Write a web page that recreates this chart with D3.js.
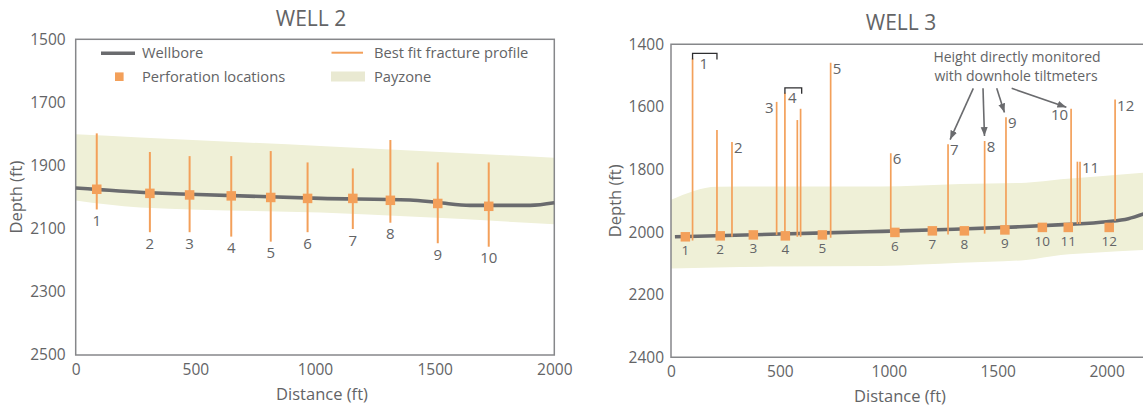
<!DOCTYPE html>
<html>
<head>
<meta charset="utf-8">
<script src="https://cdnjs.cloudflare.com/ajax/libs/d3/7.8.5/d3.min.js"></script>
<style>
  body { margin: 0; background: #fff; }
  svg text { font-family: "Open Sans", sans-serif; fill: #636466; }
</style>
</head>
<body>
<script>
// ---- WELL 2 ----
var w2Stages      = ["1", "2", "3", "4", "5", "6", "7", "8", "9", "10"];
var w2PerfFt      = [88, 310, 476, 650, 815, 969, 1158, 1315, 1513, 1726];
var w2PerfDepth   = [1975, 1988, 1993, 1996, 2001, 2004, 2004, 2010, 2020, 2029];
var w2FracTop     = [1798, 1857, 1870, 1870, 1854, 1890, 1909, 1819, 1890, 1890];
var w2FracBottom  = [2039, 2111, 2111, 2125, 2141, 2111, 2101, 2081, 2146, 2157];
var w2WellFt      = [0, 311, 478, 1023, 1397, 1514, 1648, 1899, 2000];
var w2WellDepth   = [1971, 1986, 1991, 2004, 2009, 2017, 2026, 2026, 2018];
var w2PayFt       = [0, 269, 1023, 2000];
var w2PayTop      = [1801, 1811, 1838, 1875];
var w2PayBottom   = [2011, 2033, 2049, 2086];
var w2YTicks      = [1500, 1700, 1900, 2100, 2300, 2500];

// ---- WELL 3 ----
var w3Stages      = ["1", "2", "3", "4", "5", "6", "7", "8", "9", "10", "11", "12"];
var w3PerfFt      = [66, 226, 378, 525, 695, 1028, 1200, 1347, 1533, 1705, 1824, 2012];
var w3PerfDepth   = [2015, 2012, 2009, 2012, 2009, 2001, 1996, 1996, 1993, 1985, 1985, 1985];
var w3FracFt      = [99, 211, 280, 485, 523, 580, 595, 733, 1009, 1272, 1440, 1538, 1837, 1866, 1878, 2039];
var w3FracTop     = [1445, 1674, 1712, 1584, 1555, 1642, 1606, 1459, 1748, 1719, 1709, 1633, 1606, 1775, 1775, 1576];
var w3FracBottom  = [2027, 2015, 2015, 2009, 2018, 2015, 2015, 2018, 2003, 2008, 2005, 1988, 1983, 1974, 1974, 1964];
// which fracture line carries a stage name at its tip ("" = none)
var w3FracLabel   = ["", "", "2", "3", "", "", "", "5", "6", "7", "8", "9", "10", "", "11", "12"];
var w3Brackets    = ["1", "4"];
var w3BracketFrom = [99, 523];
var w3BracketTo   = [211, 600];
var w3BracketDepth = [1429, 1539];
var w3Monitored   = ["7", "8", "9", "10"];
var w3WellFt      = [18, 250, 500, 900, 1300, 1600, 1800, 2000, 2100, 2170];
var w3WellDepth   = [2015, 2011, 2006, 1999, 1991, 1983, 1976, 1967, 1957, 1942];
var w3PayFt       = [0, 210, 500, 960, 1330, 1630, 1790, 1940, 2170];
var w3PayTop      = [1897, 1855, 1854, 1854, 1846, 1842, 1831, 1823, 1810];
var w3PayBottom   = [2116, 2113, 2110, 2108, 2098, 2089, 2073, 2066, 2057];
var w3YTicks      = [1400, 1600, 1800, 2000, 2200, 2400];

var xTicks = [0, 500, 1000, 1500, 2000];

var width = 1143, height = 408;
var orange = "#f3a05a", payColor = "#eff0d7", boreColor = "#6a6b6e", frameColor = "#86878a";

var svg = d3.select("body").append("svg")
  .attr("width", width)
  .attr("height", height);

svg.append("defs").append("marker")
  .attr("id", "arrow")
  .attr("markerUnits", "userSpaceOnUse")
  .attr("viewBox", "0 -4 9 8")
  .attr("refX", 9).attr("refY", 0)
  .attr("markerWidth", 9).attr("markerHeight", 8)
  .attr("orient", "auto")
  .append("path")
  .attr("d", "M0,-3.5L9,0L0,3.5Z")
  .attr("fill", boreColor);

function drawWell(o) {
  var x = d3.scaleLinear().domain(o.xDomain).range([o.left, o.right]);
  var y = d3.scaleLinear().domain(o.yDomain).range([o.top, o.bottom]);
  var g = svg.append("g");

  // payzone band
  g.append("path")
    .datum(d3.range(o.payFt.length))
    .attr("d", d3.area()
      .x(function (i) { return x(o.payFt[i]); })
      .y0(function (i) { return y(o.payTop[i]); })
      .y1(function (i) { return y(o.payBottom[i]); })
      .curve(d3.curveMonotoneX))
    .attr("fill", payColor);

  // frame
  var fr = g.append("g").attr("fill", "none").attr("stroke", frameColor).attr("stroke-width", 1.5);
  if (o.closed) {
    fr.append("rect").attr("x", o.left).attr("y", o.top)
      .attr("width", o.right - o.left).attr("height", o.bottom - o.top);
  } else {
    fr.append("path").attr("d", "M" + (width + 2) + "," + o.top + "H" + o.left + "V" + o.bottom + "H" + (width + 2));
  }

  // axes
  var ya = g.append("g").attr("transform", "translate(" + o.left + ",0)")
    .call(d3.axisLeft(y).tickValues(o.yTicks).tickSize(0).tickPadding(o.yPad).tickFormat(d3.format("d")));
  var xa = g.append("g").attr("transform", "translate(0," + o.bottom + ")")
    .call(d3.axisBottom(x).tickValues(xTicks).tickSize(0).tickPadding(9).tickFormat(d3.format("d")));
  [ya, xa].forEach(function (a) {
    a.select(".domain").remove();
    a.attr("font-family", null);
    a.selectAll("text").style("font-size", "15.5px").attr("fill", null);
  });

  g.append("text")
    .attr("transform", "translate(" + o.yTitleX + "," + ((o.top + o.bottom) / 2) + ") rotate(-90)")
    .attr("text-anchor", "middle").attr("dy", "0.35em")
    .style("font-size", "16.5px")
    .text("Depth (ft)");
  g.append("text")
    .attr("x", o.xTitleX).attr("y", o.bottom + 45)
    .attr("text-anchor", "middle")
    .style("font-size", "16.5px")
    .text("Distance (ft)");
  g.append("text")
    .attr("x", o.titleX).attr("y", o.titleY)
    .attr("text-anchor", "middle").attr("dy", "0.35em")
    .style("font-size", "21px")
    .text(o.title);

  // wellbore
  g.append("path")
    .datum(d3.range(o.wellFt.length))
    .attr("d", d3.line()
      .x(function (i) { return x(o.wellFt[i]); })
      .y(function (i) { return y(o.wellDepth[i]); })
      .curve(d3.curveMonotoneX))
    .attr("fill", "none").attr("stroke", boreColor).attr("stroke-width", 3.6);

  // fracture profiles
  g.selectAll(".frac")
    .data(d3.range(o.fracFt.length))
    .enter().append("line")
    .attr("x1", function (i) { return x(o.fracFt[i]); })
    .attr("x2", function (i) { return x(o.fracFt[i]); })
    .attr("y1", function (i) { return y(o.fracTop[i]); })
    .attr("y2", function (i) { return y(o.fracBottom[i]); })
    .attr("stroke", orange).attr("stroke-width", o.fracWidth);

  // perforations
  var s = 9.5;
  g.selectAll(".perf")
    .data(d3.range(o.perfFt.length))
    .enter().append("rect")
    .attr("x", function (i) { return x(o.perfFt[i]) - s / 2; })
    .attr("y", function (i) { return y(o.perfDepth[i]) - s / 2; })
    .attr("width", s).attr("height", s)
    .attr("fill", orange);

  return { g: g, x: x, y: y };
}

// ---------- WELL 2 ----------
var w2 = drawWell({
  title: "WELL 2", titleX: 311, titleY: 19,
  left: 75.7, right: 554.3, top: 39.3, bottom: 355,
  xDomain: [0, 2000], yDomain: [1500, 2500], yTicks: w2YTicks, yPad: 10,
  yTitleX: 16, xTitleX: 322, closed: true,
  payFt: w2PayFt, payTop: w2PayTop, payBottom: w2PayBottom,
  wellFt: w2WellFt, wellDepth: w2WellDepth,
  fracFt: w2PerfFt, fracTop: w2FracTop, fracBottom: w2FracBottom, fracWidth: 2,
  perfFt: w2PerfFt, perfDepth: w2PerfDepth
});

w2.g.selectAll(".stage")
  .data(w2Stages)
  .enter().append("text")
  .attr("x", function (d, i) { return w2.x(w2PerfFt[i]); })
  .attr("y", function (d, i) { return w2.y(w2FracBottom[i]) + 11.5; })
  .attr("dy", "0.35em").attr("text-anchor", "middle")
  .style("font-size", "15px")
  .text(function (d) { return d; });

// legend
var lg = w2.g.append("g");
lg.append("line").attr("x1", 101).attr("x2", 135).attr("y1", 53.3).attr("y2", 53.3)
  .attr("stroke", boreColor).attr("stroke-width", 3.6);
lg.append("rect").attr("x", 115).attr("y", 72.4).attr("width", 8.6).attr("height", 8.6).attr("fill", orange);
lg.append("line").attr("x1", 331.5).attr("x2", 363).attr("y1", 52.7).attr("y2", 52.7)
  .attr("stroke", orange).attr("stroke-width", 2);
lg.append("rect").attr("x", 331).attr("y", 71.5).attr("width", 34).attr("height", 10).attr("fill", "#e9e9d2");
[["Wellbore", 142, 53.3], ["Perforation locations", 142, 76.7],
 ["Best fit fracture profile", 374, 53], ["Payzone", 374, 76.7]].forEach(function (t) {
  lg.append("text").attr("x", t[1]).attr("y", t[2]).attr("dy", "0.35em")
    .style("font-size", "14.7px").text(t[0]);
});

// ---------- WELL 3 ----------
var w3 = drawWell({
  title: "WELL 3", titleX: 901, titleY: 23,
  left: 671, right: 671 + 2000 * 0.2178, top: 44.3, bottom: 357.3,
  xDomain: [0, 2000], yDomain: [1400, 2400], yTicks: w3YTicks, yPad: 7,
  yTitleX: 615, xTitleX: 900, closed: false,
  payFt: w3PayFt, payTop: w3PayTop, payBottom: w3PayBottom,
  wellFt: w3WellFt, wellDepth: w3WellDepth,
  fracFt: w3FracFt, fracTop: w3FracTop, fracBottom: w3FracBottom, fracWidth: 1.7,
  perfFt: w3PerfFt, perfDepth: w3PerfDepth
});

// perforation numbers under squares
w3.g.selectAll(".stage")
  .data(w3Stages)
  .enter().append("text")
  .attr("x", function (d, i) { return w3.x(w3PerfFt[i]); })
  .attr("y", function (d, i) { return w3.y(w3PerfDepth[i]) + 13.5; })
  .attr("dy", "0.35em").attr("text-anchor", "middle")
  .style("font-size", "13.5px")
  .text(function (d) { return d; });

// stage names at fracture tips ("3" and "10" sit left of the line)
w3.g.selectAll(".tip")
  .data(d3.range(w3FracFt.length).filter(function (i) { return w3FracLabel[i] !== ""; }))
  .enter().append("text")
  .attr("x", function (i) {
    var left = w3FracLabel[i] === "3" || w3FracLabel[i] === "10";
    return w3.x(w3FracFt[i]) + (left ? -3 : 2);
  })
  .attr("text-anchor", function (i) {
    return (w3FracLabel[i] === "3" || w3FracLabel[i] === "10") ? "end" : "start";
  })
  .attr("y", function (i) { return w3.y(w3FracTop[i]) + 6; })
  .attr("dy", "0.35em")
  .style("font-size", "15px")
  .text(function (i) { return w3FracLabel[i]; });

// brackets grouping fractures of one stage
w3Brackets.forEach(function (b, i) {
  var x1 = w3.x(w3BracketFrom[i]), x2 = w3.x(w3BracketTo[i]), yb = w3.y(w3BracketDepth[i]);
  w3.g.append("path")
    .attr("d", "M" + x1 + "," + (yb + 6) + "V" + yb + "H" + x2 + "V" + (yb + 6))
    .attr("fill", "none").attr("stroke", "#2e2e30").attr("stroke-width", 1.3);
  w3.g.append("text")
    .attr("x", (x1 + x2) / 2 - 1).attr("y", yb + 10).attr("dy", "0.35em")
    .attr("text-anchor", "middle").style("font-size", "15px")
    .text(b);
});

// annotation (two lines)
var ann = w3.g.append("g");
ann.append("text").attr("x", 1017).attr("y", 57.5).attr("dy", "0.35em").attr("text-anchor", "middle")
  .style("font-size", "14px").text("Height directly monitored");
ann.append("text").attr("x", 1016).attr("y", 76.5).attr("dy", "0.35em").attr("text-anchor", "middle")
  .style("font-size", "14px").text("with downhole tiltmeters");
var arrowStartX = [973.3, 983, 996.7, 1011.7];
w3Monitored.forEach(function (st, k) {
  var i = w3FracLabel.indexOf(st);
  var tx = w3.x(w3FracFt[i]), ty = w3.y(w3FracTop[i]);
  var sx = arrowStartX[k], sy = 88.3;
  var dx = tx - sx, dy = ty - sy, len = Math.sqrt(dx * dx + dy * dy);
  ann.append("line")
    .attr("x1", sx).attr("y1", sy)
    .attr("x2", tx - dx / len * 5).attr("y2", ty - dy / len * 5)
    .attr("stroke", boreColor).attr("stroke-width", 1.6)
    .attr("marker-end", "url(#arrow)");
});
</script>
</body>
</html>
